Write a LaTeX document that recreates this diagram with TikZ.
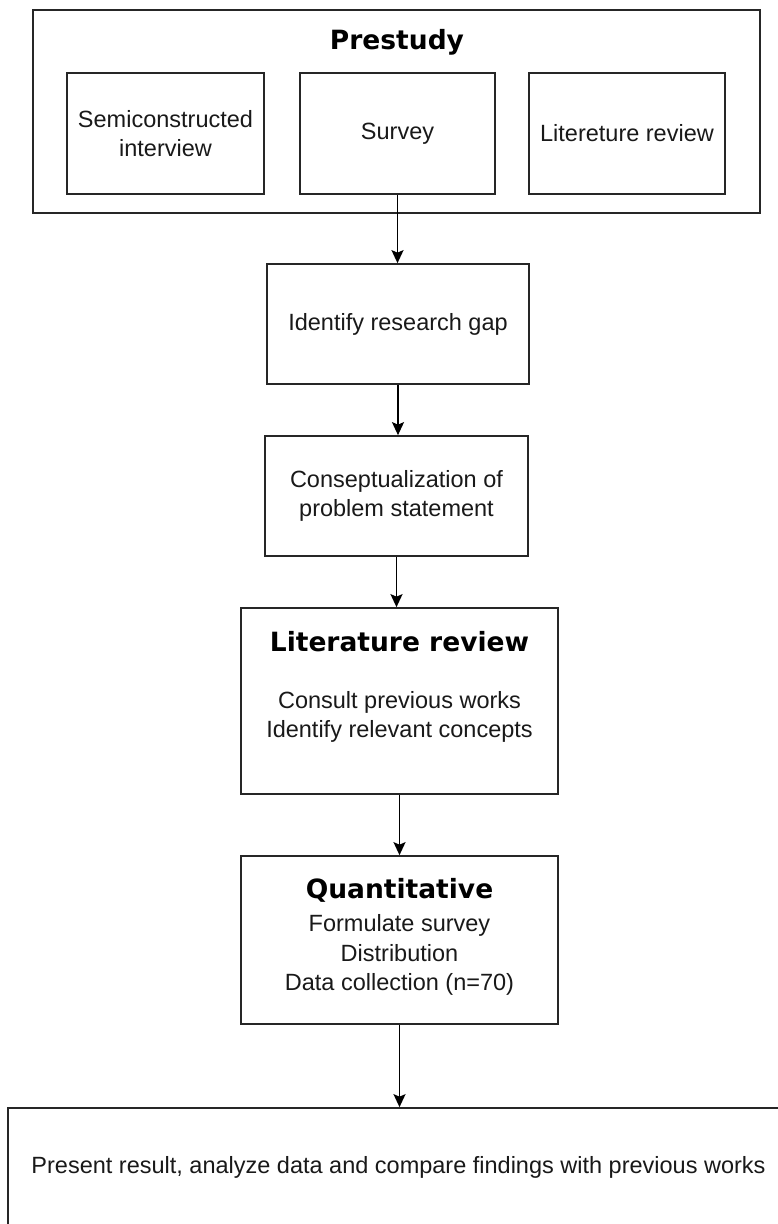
\documentclass[tikz,border=0pt]{standalone}
\usepackage{fontspec}
\setmainfont{Liberation Sans}
\newfontfamily\titlefont{DejaVu Sans}
\usetikzlibrary{arrows.meta}
\tikzset{
  box/.style={draw=black!85, line width=1.7pt, inner sep=0pt, fill=white},
  txt/.style={font=\fontsize{23.5}{29.5}\selectfont, align=center, inner sep=0pt, text=black!90},
  ttl/.style={font=\titlefont\bfseries\fontsize{26.5}{30}\selectfont, inner sep=0pt, text=black},
  arr/.style={draw=black, line width=1.8pt, -{Stealth[length=13pt,width=12pt,inset=2.5pt]}}
}
\begin{document}
\begin{tikzpicture}[x=1pt,y=-1pt]
\useasboundingbox (0,0) rectangle (778,1224);
% Prestudy group
\node[box, minimum width=727, minimum height=203] (pre) at (396.5,111.5) {};
\node[ttl] (pretitle) at (397,42) {Prestudy};
\node[box, txt, minimum width=197, minimum height=121] (semi) at (165.5,133.5) {Semiconstructed\\interview};
\node[box, txt, minimum width=195, minimum height=121] (survey) at (397.5,133.5) {Survey};
\node[box, txt, minimum width=196, minimum height=121] (litr) at (627,133.5) {Litereture review};
% main chain
\node[box, txt, minimum width=262, minimum height=120] (gap) at (398,324) {Identify research gap};
\node[box, txt, minimum width=263, minimum height=120] (concept) at (396.5,496) {Conseptualization of\\problem statement};
\node[box, minimum width=317, minimum height=186] (lit) at (399.5,701) {};
\node[ttl] (littitle) at (399.5,642) {Literature review};
\node[txt] (litbody) at (399.5,717) {Consult previous works\\Identify relevant concepts};
\node[box, minimum width=317, minimum height=168] (quant) at (399.5,940) {};
\node[ttl] (quanttitle) at (399.5,890) {Quantitative};
\node[txt] (quantbody) at (399.5,955) {Formulate survey\\Distribution\\Data collection (n=70)};
\node[box, txt, minimum width=781, minimum height=118] (final) at (398.5,1167) {Present result, analyze data and compare findings with previous works};
% connectors
\draw[arr] (survey.south) -- (survey.south |- gap.north);
\draw[arr] (gap.south) -- (gap.south |- concept.north);
\draw[arr] (concept.south) -- (concept.south |- lit.north);
\draw[arr] (lit.south) -- (lit.south |- quant.north);
\draw[arr] (quant.south) -- (quant.south |- final.north);
\end{tikzpicture}
\end{document}
